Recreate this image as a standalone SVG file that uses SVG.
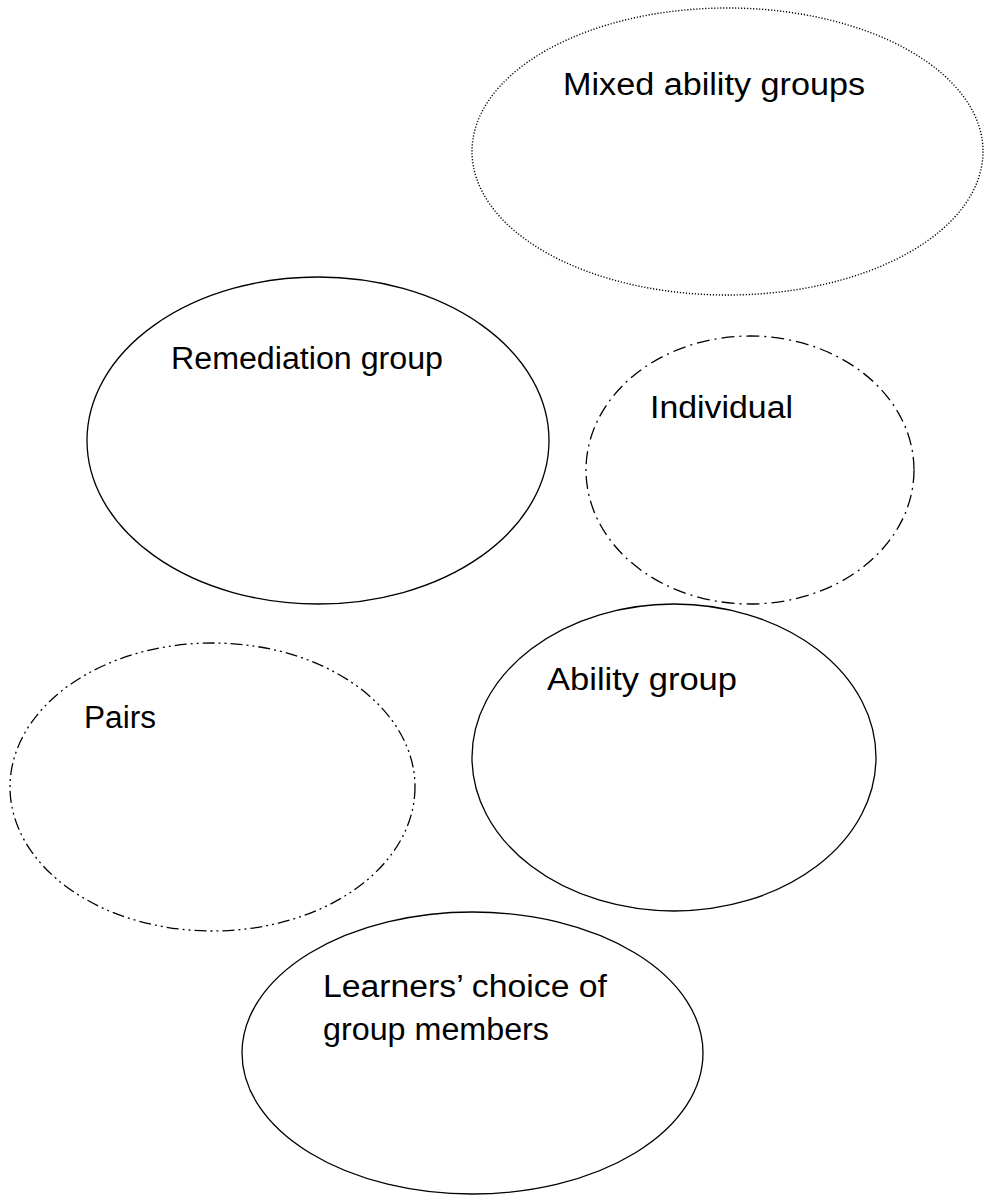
<svg xmlns="http://www.w3.org/2000/svg" width="984" height="1196" viewBox="0 0 984 1196">
  <style>
    .shape { fill: none; stroke: #000; stroke-width: 1.3; }
    .dotted { stroke-width: 1.4; stroke-dasharray: 1.2 1.8; }
    .dashdot { stroke-dasharray: 13 5 2 5; }
    .dashdotdot { stroke-dasharray: 12 4 2 4 2 4; }
    .label { font-family: "Liberation Sans", Arial, sans-serif; font-size: 31px; fill: #000; }
  </style>
  <rect width="984" height="1196" fill="#fff"/>
  <g id="mixed-ability-groups">
    <ellipse class="shape dotted" cx="727.5" cy="151.5" rx="255.5" ry="143.5"/>
    <text class="label" x="563" y="95" textLength="302" lengthAdjust="spacingAndGlyphs">Mixed ability groups</text>
  </g>
  <g id="remediation-group">
    <ellipse class="shape" cx="318" cy="440.5" rx="231" ry="163.5"/>
    <text class="label" x="171" y="369" textLength="272" lengthAdjust="spacingAndGlyphs">Remediation group</text>
  </g>
  <g id="individual">
    <ellipse class="shape dashdot" cx="750" cy="470" rx="164" ry="134"/>
    <text class="label" x="650" y="418" textLength="143" lengthAdjust="spacingAndGlyphs">Individual</text>
  </g>
  <g id="pairs">
    <ellipse class="shape dashdotdot" cx="212.5" cy="787" rx="202.5" ry="144"/>
    <text class="label" x="84" y="728" textLength="72" lengthAdjust="spacingAndGlyphs">Pairs</text>
  </g>
  <g id="ability-group">
    <ellipse class="shape" cx="674" cy="757.5" rx="202" ry="153.5"/>
    <text class="label" x="547" y="690" textLength="190" lengthAdjust="spacingAndGlyphs">Ability group</text>
  </g>
  <g id="learners-choice">
    <ellipse class="shape" cx="472.5" cy="1053" rx="230.5" ry="141"/>
    <text class="label" x="323" y="997" textLength="284" lengthAdjust="spacingAndGlyphs">Learners’ choice of</text>
    <text class="label" x="323" y="1040" textLength="226" lengthAdjust="spacingAndGlyphs">group members</text>
  </g>
  <g id="connectors"/>
</svg>
